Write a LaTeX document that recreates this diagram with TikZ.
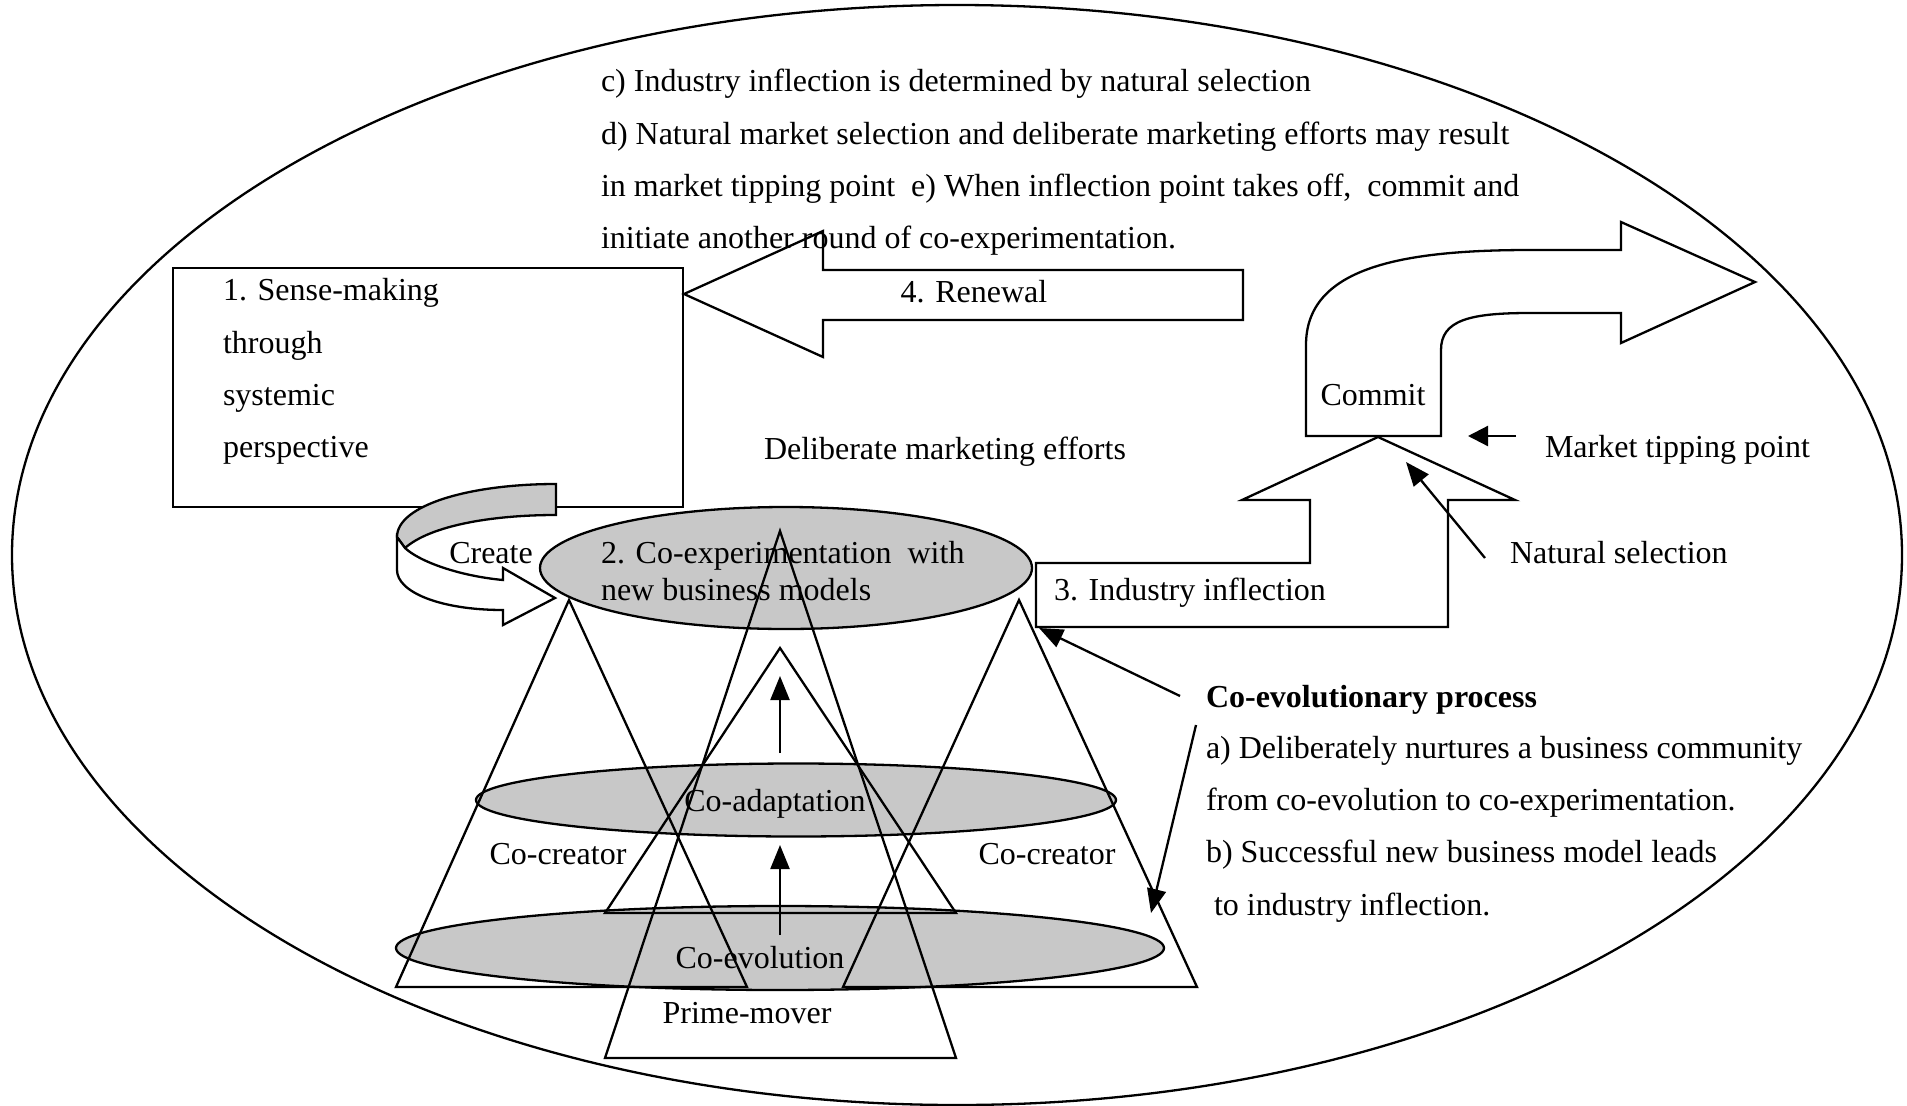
\documentclass[tikz,border=0pt]{standalone}
\usepackage{fontspec}
\setmainfont{Liberation Serif}
\usetikzlibrary{arrows.meta,shapes.geometric}
\definecolor{discgray}{RGB}{200,200,200}
\begin{document}
\begin{tikzpicture}[x=1pt,y=-1pt,line width=2.3pt,line join=miter,
  lbl/.style={inner sep=0pt,outer sep=0pt,anchor=base west,font=\fontsize{32}{38}\selectfont},
  clbl/.style={lbl,anchor=base},
  disc/.style={ellipse,draw,fill=discgray,inner sep=0pt},
  frame/.style={ellipse,draw,inner sep=0pt},
  pointer/.style={-{Triangle[length=24pt,width=19pt]}},
  blockarrow/.style={draw,fill=white},
]
\path[use as bounding box] (0,0) rectangle (1907,1106);

% outer boundary of the whole cycle
\node[frame,minimum width=1890pt,minimum height=1100pt] (outer) at (957,555) {};

% 1. sense-making box
\node[draw,fill=white,minimum width=510pt,minimum height=239pt,inner sep=0pt] (sense) at (428,387.5) {};

% 4. renewal block arrow
\draw[blockarrow] (684,294) -- (823,231) -- (823,270) -- (1243,270) -- (1243,320)
  -- (823,320) -- (823,357) -- cycle;

% commit: bent block arrow
\draw[blockarrow] (1306,436) -- (1306,345) .. controls (1306,268) and (1400,250) .. (1530,250)
  -- (1621,250) -- (1621,222) -- (1755,282) -- (1621,343) -- (1621,313) -- (1530,313)
  .. controls (1470,313) and (1441,320) .. (1441,350) -- (1441,436) -- cycle;

% 3. industry inflection: elbow block arrow
\draw[blockarrow] (1036,563) -- (1310,563) -- (1310,500) -- (1242,500) -- (1378,437)
  -- (1515,500) -- (1448,500) -- (1448,627) -- (1036,627) -- cycle;

% the three shaded discs
\node[disc,minimum width=492pt,minimum height=122pt] (coexp) at (786,568) {};
\node[disc,minimum width=640pt,minimum height=73pt] (coadapt) at (796,800) {};
\node[disc,minimum width=768pt,minimum height=84pt] (coevol) at (780,948) {};

% create: curled arrow, shaded back and white front
\draw[fill=discgray] (556,484) .. controls (470,484) and (397,505) .. (397,537) -- (405,548)
  .. controls (430,526) and (490,515) .. (556,515) -- cycle;
\draw[fill=white] (397,537) -- (397,570) .. controls (397,592) and (440,610) .. (503,610)
  -- (503,625) -- (555,598) -- (503,568) -- (503,580)
  .. controls (460,576) and (420,562) .. (405,548) -- cycle;

% co-creator, prime-mover and inner triangles
\draw (569,600) -- (396,987) -- (747,987) -- cycle;
\draw (1019,600) -- (843,987) -- (1197,987) -- cycle;
\draw (780,531) -- (605,1058) -- (956,1058) -- cycle;
\draw (780,648) -- (605,913) -- (956,913) -- cycle;

% upward progress arrows
\coordinate (up1s) at (780,753); \coordinate (up1e) at (780,676);
\coordinate (up2s) at (780,935); \coordinate (up2e) at (780,845);
\draw[pointer] (up1s) -- (up1e);
\draw[pointer] (up2s) -- (up2e);

% pointers from the side notes
\coordinate (mt0) at (1516,436); \coordinate (mt1) at (1468,436);
\draw[pointer,-{Triangle[length=20pt,width=20pt]}] (mt0) -- (mt1);
\coordinate (ns0) at (1485,558); \coordinate (ns1) at (1406,462);
\draw[pointer] (ns0) -- (ns1);
\coordinate (ce0) at (1180,696); \coordinate (ce1) at (1039,628);
\draw[pointer] (ce0) -- (ce1);
\coordinate (cf0) at (1196,725); \coordinate (cf1) at (1151,913);
\draw[pointer] (cf0) -- (cf1);

% texts
\node[lbl] (noteC) at (601,91) {c) Industry inflection is determined by natural selection};
\node[lbl] (noteD) at (601,144) {d) Natural market selection and deliberate marketing efforts may result};
\node[lbl] (noteE) at (601,196) {in market tipping point\ \ e) When inflection point takes off,\ \ commit and};
\node[lbl] (noteF) at (601,248) {initiate another round of co-experimentation.};

\node[lbl] (s1) at (223,300) {1. Sense-making};
\node[lbl] (s2) at (223,353) {through};
\node[lbl] (s3) at (223,405) {systemic};
\node[lbl] (s4) at (223,457) {perspective};

\node[clbl] (renew) at (974,302) {4. Renewal};
\node[lbl] (delib) at (764,459) {Deliberate marketing efforts};
\node[clbl] (commit) at (1373,405) {Commit};
\node[lbl] (tipping) at (1545,457) {Market tipping point};
\node[lbl] (natsel) at (1510,563) {Natural selection};
\node[lbl] (indus) at (1054,600) {3. Industry inflection};

\node[clbl] (create) at (491,563) {Create};
\node[lbl] (exp1) at (601,563) {2. Co-experimentation\ \ with};
\node[lbl] (exp2) at (601,600) {new business models};

\node[clbl] (coadtxt) at (775,811) {Co-adaptation};
\node[clbl] (ccl) at (558,864) {Co-creator};
\node[clbl] (ccr) at (1047,864) {Co-creator};
\node[clbl] (coevtxt) at (760,968) {Co-evolution};
\node[clbl] (prime) at (747,1023) {Prime-mover};

\node[lbl,font=\fontsize{32}{38}\selectfont\bfseries] (cep) at (1206,707) {Co-evolutionary process};
\node[lbl] (cepa) at (1206,758) {a) Deliberately nurtures a business community};
\node[lbl] (cepb) at (1206,810) {from co-evolution to co-experimentation.};
\node[lbl] (cepc) at (1206,862) {b) Successful new business model leads};
\node[lbl] (cepd) at (1206,915) {\ to industry inflection.};
\end{tikzpicture}
\end{document}
